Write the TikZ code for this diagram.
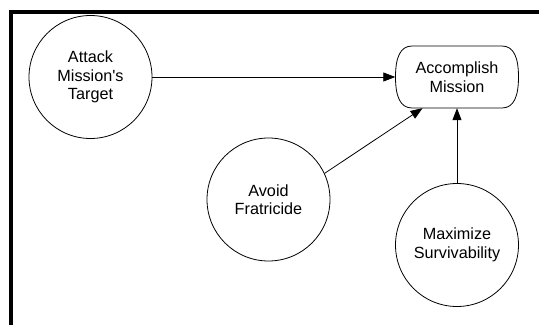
\documentclass[tikz,border=0pt]{standalone}
\usepackage{fontspec}
\setmainfont{Liberation Sans}
\usetikzlibrary{arrows.meta,calc}
% straight apostrophe glyph, bypassing the TeX quote mapping
\newcommand\straightapos{\XeTeXglyph\XeTeXglyphindex "quotesingle"\relax}
\begin{document}
\begin{tikzpicture}[x=1pt,y=-1pt,
  goal/.style={circle,draw,line width=0.8pt,minimum size=123pt,inner sep=0pt,
    align=center,font=\fontsize{16.2}{18.5}\selectfont},
  topgoal/.style={rectangle,minimum width=123pt,minimum height=62pt,inner sep=0pt,
    align=center,font=\fontsize{16.2}{18.5}\selectfont},
  outline/.style={line width=0.8pt},
  link/.style={line width=0.8pt,-{Triangle[length=12pt,width=9pt]}}]
\useasboundingbox (0,0) rectangle (539,325);
% frame
\draw[line width=4pt,line join=miter] (11,325) -- (11,11.5) -- (539,11.5);
% goals
\node[goal] (target) at (90.5,77) {Attack\\Mission\straightapos s\\Target};
\node[goal] (fratricide) at (268.5,199.5) {Avoid\\Fratricide};
\node[goal] (survive) at (457,245) {Maximize\\Survivability};
\node[topgoal] (mission) at (457,77) {Accomplish\\Mission};
% rounded outline with bulging sides for the top goal
\draw[outline,shift={(mission.center)}]
  (-45,-31) -- (45,-31)
  .. controls (57,-31) and (61.5,-19) .. (61.5,0)
  .. controls (61.5,19) and (57,31) .. (45,31)
  -- (-45,31)
  .. controls (-57,31) and (-61.5,19) .. (-61.5,0)
  .. controls (-61.5,-19) and (-57,-31) .. cycle;
% contributions
\draw[link] (target) -- (mission);
\draw[link] (fratricide.25) -- ([xshift=-34.5pt]mission.south);
\draw[link] (survive) -- (mission);
\end{tikzpicture}
\end{document}
